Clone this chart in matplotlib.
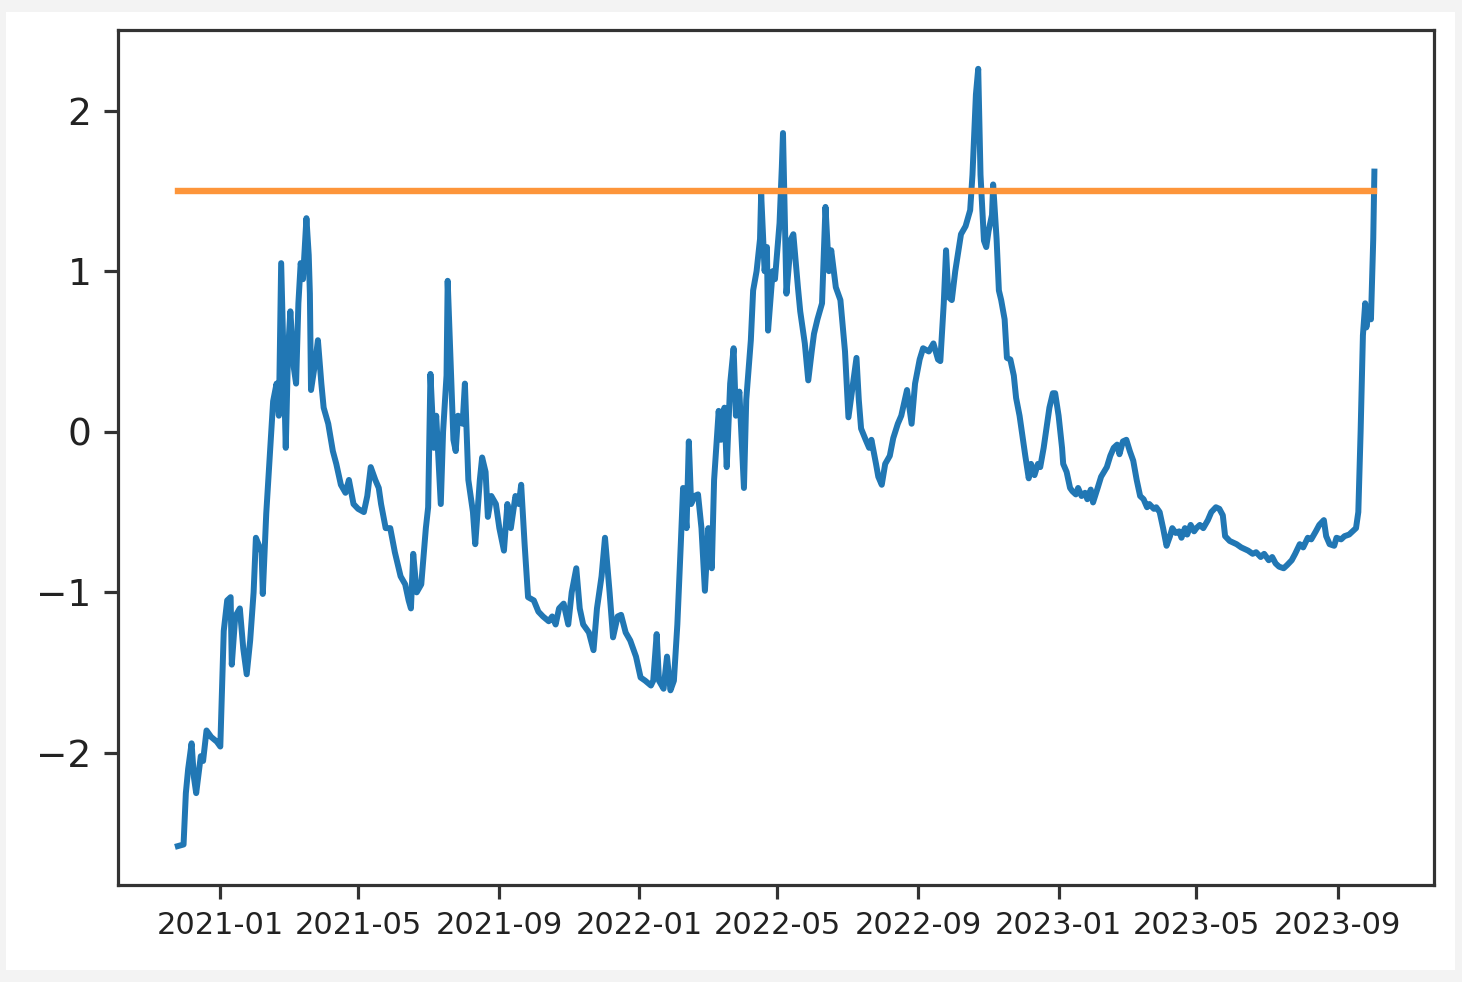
import matplotlib
matplotlib.use("Agg")
import matplotlib.pyplot as plt
import matplotlib.dates as mdates
from matplotlib.patches import Rectangle
import pandas as pd

# Days since 2021-01-01 and series values
day_offsets = [
    -37, -32, -30, -28, -25, -23, -21, -17, -15, -12, -8, -3, 0, 3, 6, 9, 10, 13, 17, 20,
    23, 26, 29, 31, 36, 37, 40, 44, 46, 49, 51, 53, 57, 59, 61, 64, 66, 68, 70, 72,
    75, 77, 78, 79, 83, 85, 88, 90, 94, 98, 101, 105, 109, 112, 116, 120, 125, 128, 131, 135,
    138, 140, 144, 148, 152, 157, 161, 164, 166, 168, 171, 175, 179, 181, 183, 186, 188, 192, 194, 197,
    198, 200, 203, 205, 207, 211, 213, 216, 220, 222, 226, 228, 231, 233, 236, 240, 243, 247, 250, 253,
    257, 260, 262, 265, 268, 273, 277, 281, 286, 289, 292, 295, 299, 303, 306, 310, 313, 316, 321, 325,
    328, 332, 335, 339, 342, 346, 349, 353, 357, 362, 366, 370, 375, 377, 380, 382, 386, 389, 392, 395,
    398, 401, 403, 406, 408, 410, 413, 416, 419, 422, 425, 428, 430, 434, 436, 439, 441, 444, 447, 449,
    452, 456, 458, 462, 464, 467, 470, 471, 474, 476, 477, 481, 483, 487, 489, 490, 492, 493, 497, 499,
    503, 505, 509, 512, 515, 517, 520, 524, 527, 530, 532, 536, 540, 544, 547, 551, 554, 556, 558, 562,
    565, 567, 571, 573, 576, 579, 583, 586, 590, 593, 598, 602, 605, 609, 612, 617, 621, 625, 627, 630,
    632, 634, 637, 640, 645, 649, 653, 655, 658, 660, 662, 665, 667, 669, 672, 673, 676, 678, 680, 683,
    685, 688, 691, 693, 696, 699, 701, 704, 706, 709, 712, 714, 717, 720, 722, 725, 727, 730, 733, 734,
    737, 740, 742, 745, 747, 750, 753, 755, 758, 760, 764, 767, 772, 775, 778, 781, 783, 786, 789, 792,
    795, 798, 801, 804, 807, 809, 813, 815, 818, 821, 824, 827, 829, 832, 835, 837, 840, 842, 845, 848,
    850, 853, 856, 860, 863, 867, 870, 873, 875, 879, 882, 885, 889, 892, 895, 899, 902, 906, 909, 913,
    916, 919, 922, 926, 929, 933, 936, 940, 943, 947, 950, 954, 957, 961, 963, 966, 970, 972, 976, 979,
    983, 986, 989, 991, 993, 995, 997, 998, 1000, 1002, 1004, 1005,
]

values = [
    -2.58, -2.57, -2.25, -2.10, -1.94, -2.15, -2.25, -2.02, -2.05, -1.86, -1.90, -1.93, -1.96, -1.24, -1.05, -1.03, -1.45, -1.15, -1.10, -1.35,
    -1.51, -1.30, -1.00, -0.66, -0.75, -1.01, -0.51, -0.05, 0.19, 0.30, 0.10, 1.05, -0.10, 0.50, 0.75, 0.40, 0.30, 0.80, 1.05, 0.95,
    1.33, 1.10, 0.86, 0.26, 0.45, 0.57, 0.30, 0.15, 0.05, -0.12, -0.20, -0.33, -0.38, -0.30, -0.45, -0.48, -0.50, -0.40, -0.22, -0.30,
    -0.35, -0.45, -0.60, -0.60, -0.75, -0.90, -0.95, -1.05, -1.10, -0.76, -1.00, -0.95, -0.60, -0.47, 0.36, -0.10, 0.10, -0.45, 0.00, 0.35,
    0.94, 0.55, -0.05, -0.12, 0.10, 0.05, 0.30, -0.30, -0.50, -0.70, -0.30, -0.16, -0.25, -0.53, -0.40, -0.45, -0.60, -0.74, -0.45, -0.60,
    -0.40, -0.45, -0.33, -0.70, -1.03, -1.05, -1.12, -1.15, -1.18, -1.15, -1.20, -1.10, -1.07, -1.20, -1.00, -0.85, -1.10, -1.20, -1.25, -1.36,
    -1.10, -0.90, -0.66, -1.00, -1.28, -1.15, -1.14, -1.25, -1.30, -1.40, -1.53, -1.55, -1.58, -1.55, -1.26, -1.55, -1.60, -1.40, -1.61, -1.55,
    -1.20, -0.70, -0.35, -0.60, -0.06, -0.45, -0.40, -0.39, -0.60, -0.99, -0.60, -0.85, -0.30, 0.13, -0.05, 0.15, -0.22, 0.30, 0.52, 0.10,
    0.25, -0.35, 0.20, 0.57, 0.88, 1.00, 1.20, 1.48, 1.00, 1.15, 0.63, 1.00, 0.95, 1.30, 1.65, 1.86, 1.20, 0.86, 1.20, 1.23,
    0.90, 0.75, 0.55, 0.32, 0.50, 0.61, 0.70, 0.80, 1.40, 1.00, 1.13, 0.90, 0.82, 0.50, 0.09, 0.30, 0.46, 0.20, 0.02, -0.05,
    -0.10, -0.05, -0.20, -0.28, -0.33, -0.20, -0.15, -0.04, 0.05, 0.10, 0.26, 0.05, 0.30, 0.45, 0.52, 0.50, 0.55, 0.45, 0.44, 0.80,
    1.13, 0.84, 0.82, 1.00, 1.23, 1.28, 1.38, 1.60, 2.10, 2.26, 1.60, 1.19, 1.15, 1.25, 1.35, 1.54, 1.20, 0.88, 0.82, 0.70,
    0.46, 0.45, 0.35, 0.21, 0.10, -0.05, -0.15, -0.29, -0.20, -0.27, -0.20, -0.22, -0.10, 0.05, 0.15, 0.24, 0.24, 0.10, -0.10, -0.20,
    -0.25, -0.35, -0.37, -0.39, -0.35, -0.40, -0.38, -0.42, -0.36, -0.44, -0.35, -0.28, -0.22, -0.15, -0.10, -0.08, -0.14, -0.06, -0.05, -0.12,
    -0.18, -0.30, -0.40, -0.42, -0.47, -0.45, -0.48, -0.47, -0.50, -0.60, -0.71, -0.65, -0.60, -0.63, -0.62, -0.66, -0.60, -0.64, -0.58, -0.62,
    -0.60, -0.58, -0.60, -0.55, -0.50, -0.47, -0.48, -0.52, -0.65, -0.68, -0.69, -0.70, -0.72, -0.73, -0.74, -0.76, -0.75, -0.78, -0.76, -0.80,
    -0.78, -0.82, -0.84, -0.85, -0.83, -0.80, -0.76, -0.70, -0.72, -0.66, -0.67, -0.62, -0.58, -0.55, -0.65, -0.70, -0.71, -0.66, -0.67, -0.65,
    -0.64, -0.62, -0.60, -0.50, 0.00, 0.60, 0.80, 0.65, 0.75, 0.70, 1.20, 1.62,
]

threshold = 1.5
base_date = "2021-01-01"
tick_dates = ["2021-01-01", "2021-05-01", "2021-09-01", "2022-01-01", "2022-05-01",
              "2022-09-01", "2023-01-01", "2023-05-01", "2023-09-01"]
y_ticks = [-2, -1, 0, 1, 2]

dates = pd.Timestamp(base_date) + pd.to_timedelta(day_offsets, unit="D")
thr = [threshold] * len(dates)

fig = plt.figure(figsize=(14.62, 9.82), dpi=100)
fig.patch.set_facecolor("#f3f3f3")
fig.patches.append(Rectangle((0.004, 0.012), 0.991, 0.976, transform=fig.transFigure,
                             facecolor="white", edgecolor="none", zorder=-1))
ax = fig.add_axes([0.0807, 0.0988, 0.9003, 0.8707])

ax.plot(dates, values, color="#2177b4", linewidth=4.3)
ax.plot(dates, thr, color="#fd953a", linewidth=4.6)

ax.set_xticks(pd.to_datetime(tick_dates))
ax.xaxis.set_major_formatter(mdates.DateFormatter("%Y-%m"))
ax.set_yticks(y_ticks)

for s in ax.spines.values():
    s.set_linewidth(2.3)
    s.set_color("#333333")
ax.tick_params(axis="both", length=10, width=2.3, color="#333333", pad=9)
ax.tick_params(axis="y", labelsize=27)
ax.tick_params(axis="x", labelsize=22)
for lab in ax.get_xticklabels() + ax.get_yticklabels():
    lab.set_color("#222222")

fig.savefig("out.png", dpi=100, facecolor=fig.get_facecolor())
